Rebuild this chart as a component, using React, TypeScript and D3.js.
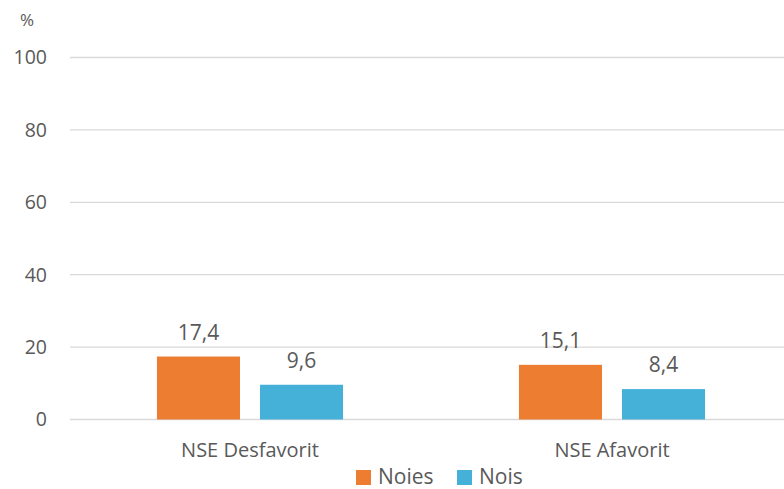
import React from 'react';
import * as d3 from 'd3';

const CATEGORIES = ['NSE Desfavorit', 'NSE Afavorit'];
const SERIES = ['Noies', 'Nois'];
const NOIES = [17.4, 15.1];
const NOIS = [9.6, 8.4];
const Y_TICKS = [0, 20, 40, 60, 80, 100];

const COLORS: Record<string, string> = { Noies: '#ED7D31', Nois: '#45B1D9' };
const FONT = '"Open Sans", sans-serif';
const TEXT = '#595959';

export default function App() {
  const width = 784;
  const height = 489;
  const plotLeft = 69;
  const plotRight = 793;
  const y = d3.scaleLinear().domain([0, 100]).range([419.5, 57.5]);
  const x0 = d3.scaleBand<string>().domain(CATEGORIES).range([plotLeft, plotRight]);
  const bw = x0.bandwidth();
  const x1 = d3.scaleBand<string>().domain(SERIES).range([bw * 0.243, bw * 0.757]).paddingInner(0.194);
  const fmt = (v: number) => d3.format('.1f')(v).replace('.', ',');

  const rows = CATEGORIES.map((c, i) => ({ cat: c, values: [NOIES[i], NOIS[i]] }));

  return (
    <svg width={width} height={height} style={{ position: 'absolute', left: 0, top: 0, background: '#fff' }} fontFamily={FONT}>
      <text x={27} y={20} dy="0.35em" fontSize={17} fill={TEXT} textAnchor="middle">%</text>
      {Y_TICKS.map(t => (
        <g key={t}>
          <line x1={70} x2={784} y1={y(t)} y2={y(t)} stroke="#d9d9d9" strokeWidth={1.3} />
          <text x={47} y={y(t)} dy="0.35em" fontSize={19.5} fill={TEXT} textAnchor="end">{t}</text>
        </g>
      ))}
      {rows.map(r => (
        <g key={r.cat} transform={`translate(${x0(r.cat)},0)`}>
          {SERIES.map((s, j) => {
            const v = r.values[j];
            const bx = x1(s)!;
            return (
              <g key={s}>
                <rect x={bx} y={y(v)} width={x1.bandwidth()} height={y(0) - y(v)} fill={COLORS[s]} />
                <text x={bx + x1.bandwidth() / 2} y={y(v) - 17} fontSize={21} fill={TEXT} textAnchor="middle">{fmt(v)}</text>
              </g>
            );
          })}
          <text x={bw / 2} y={457} fontSize={20} fill={TEXT} textAnchor="middle">{r.cat}</text>
        </g>
      ))}
      <g transform="translate(356,470)">
        <rect x={0} y={0} width={15} height={15} fill={COLORS.Noies} />
        <text x={22} y={14} fontSize={21} fill={TEXT}>Noies</text>
        <rect x={101} y={0} width={15} height={15} fill={COLORS.Nois} />
        <text x={123} y={14} fontSize={21} fill={TEXT}>Nois</text>
      </g>
    </svg>
  );
}
